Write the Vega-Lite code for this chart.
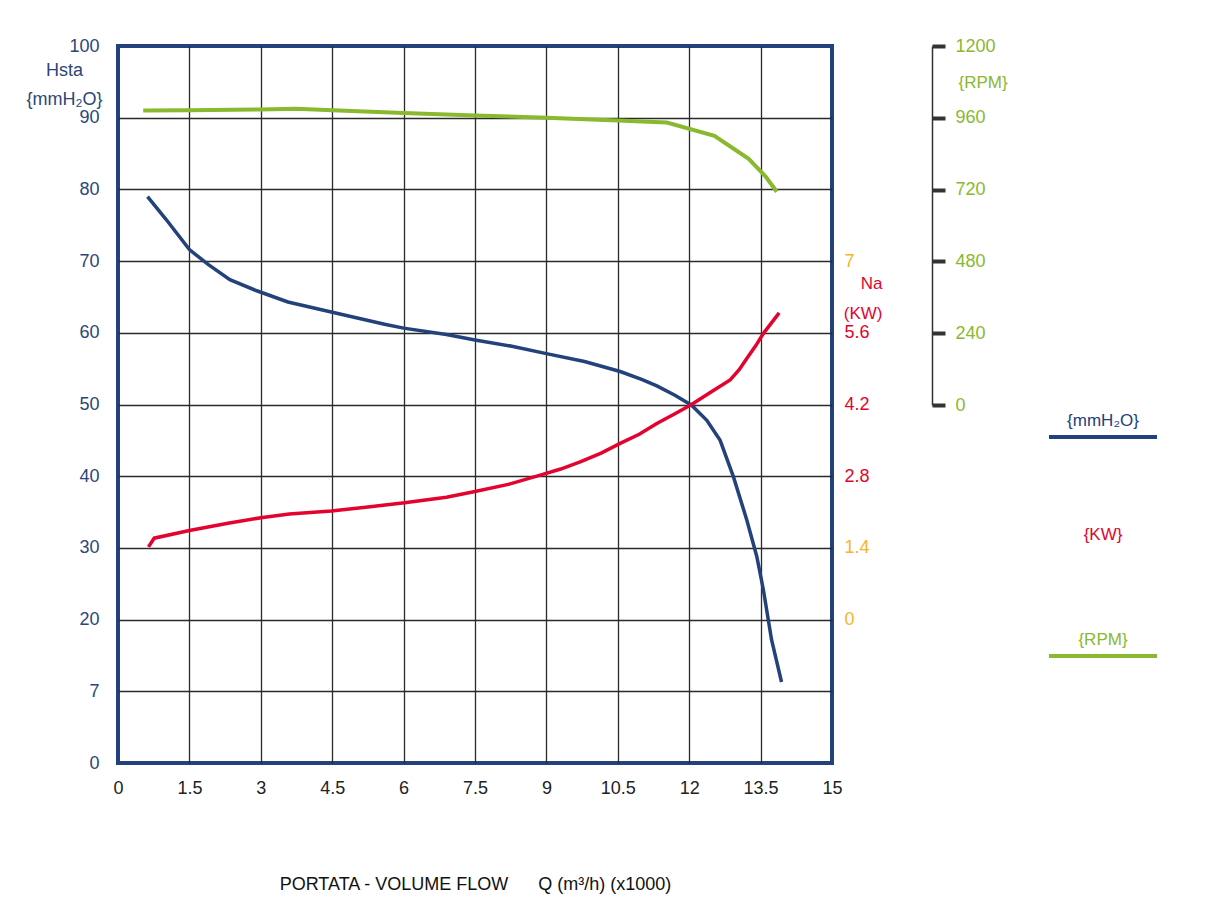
{
  "$schema": "https://vega.github.io/schema/vega-lite/v6.json",
  "width": 714,
  "height": 717,
  "autosize": "none",
  "padding": {"left": 118, "top": 46, "right": 387, "bottom": 146},
  "background": "white",
  "config": {
    "font": "Liberation Sans",
    "view": {"stroke": "#23417A", "strokeWidth": 4}
  },
  "datasets": {
    "head": [
      {"q": 0.62, "h": 79.0, "series": "{mmH₂O}"},
      {"q": 1.0, "h": 75.9, "series": "{mmH₂O}"},
      {"q": 1.5, "h": 71.6, "series": "{mmH₂O}"},
      {"q": 1.9, "h": 69.5, "series": "{mmH₂O}"},
      {"q": 2.35, "h": 67.4, "series": "{mmH₂O}"},
      {"q": 2.9, "h": 65.9, "series": "{mmH₂O}"},
      {"q": 3.57, "h": 64.3, "series": "{mmH₂O}"},
      {"q": 4.48, "h": 62.9, "series": "{mmH₂O}"},
      {"q": 5.6, "h": 61.2, "series": "{mmH₂O}"},
      {"q": 6.0, "h": 60.65, "series": "{mmH₂O}"},
      {"q": 6.9, "h": 59.75, "series": "{mmH₂O}"},
      {"q": 7.5, "h": 59.0, "series": "{mmH₂O}"},
      {"q": 8.25, "h": 58.15, "series": "{mmH₂O}"},
      {"q": 9.0, "h": 57.1, "series": "{mmH₂O}"},
      {"q": 9.8, "h": 56.0, "series": "{mmH₂O}"},
      {"q": 10.55, "h": 54.6, "series": "{mmH₂O}"},
      {"q": 11.0, "h": 53.5, "series": "{mmH₂O}"},
      {"q": 11.32, "h": 52.6, "series": "{mmH₂O}"},
      {"q": 11.7, "h": 51.3, "series": "{mmH₂O}"},
      {"q": 12.05, "h": 49.9, "series": "{mmH₂O}"},
      {"q": 12.37, "h": 47.8, "series": "{mmH₂O}"},
      {"q": 12.65, "h": 45.0, "series": "{mmH₂O}"},
      {"q": 12.93, "h": 39.9, "series": "{mmH₂O}"},
      {"q": 13.21, "h": 33.9, "series": "{mmH₂O}"},
      {"q": 13.42, "h": 28.8, "series": "{mmH₂O}"},
      {"q": 13.56, "h": 24.1, "series": "{mmH₂O}"},
      {"q": 13.73, "h": 17.2, "series": "{mmH₂O}"},
      {"q": 13.94, "h": 11.3, "series": "{mmH₂O}"}
    ],
    "power": [
      {"q": 0.64, "kw": 1.42, "series": "{KW}"},
      {"q": 0.76, "kw": 1.59, "series": "{KW}"},
      {"q": 1.5, "kw": 1.74, "series": "{KW}"},
      {"q": 2.31, "kw": 1.88, "series": "{KW}"},
      {"q": 3.0, "kw": 1.99, "series": "{KW}"},
      {"q": 3.6, "kw": 2.06, "series": "{KW}"},
      {"q": 4.48, "kw": 2.12, "series": "{KW}"},
      {"q": 5.25, "kw": 2.2, "series": "{KW}"},
      {"q": 6.02, "kw": 2.28, "series": "{KW}"},
      {"q": 6.9, "kw": 2.39, "series": "{KW}"},
      {"q": 7.5, "kw": 2.5, "series": "{KW}"},
      {"q": 8.2, "kw": 2.64, "series": "{KW}"},
      {"q": 8.87, "kw": 2.82, "series": "{KW}"},
      {"q": 9.3, "kw": 2.94, "series": "{KW}"},
      {"q": 9.71, "kw": 3.08, "series": "{KW}"},
      {"q": 10.15, "kw": 3.25, "series": "{KW}"},
      {"q": 10.55, "kw": 3.44, "series": "{KW}"},
      {"q": 10.95, "kw": 3.62, "series": "{KW}"},
      {"q": 11.32, "kw": 3.83, "series": "{KW}"},
      {"q": 11.7, "kw": 4.02, "series": "{KW}"},
      {"q": 12.05, "kw": 4.2, "series": "{KW}"},
      {"q": 12.45, "kw": 4.44, "series": "{KW}"},
      {"q": 12.86, "kw": 4.68, "series": "{KW}"},
      {"q": 13.05, "kw": 4.88, "series": "{KW}"},
      {"q": 13.21, "kw": 5.1, "series": "{KW}"},
      {"q": 13.4, "kw": 5.35, "series": "{KW}"},
      {"q": 13.56, "kw": 5.59, "series": "{KW}"},
      {"q": 13.89, "kw": 5.99, "series": "{KW}"}
    ],
    "speed": [
      {"q": 0.53, "rpm": 984, "series": "{RPM}"},
      {"q": 1.5, "rpm": 985, "series": "{RPM}"},
      {"q": 3.0, "rpm": 988, "series": "{RPM}"},
      {"q": 3.74, "rpm": 990, "series": "{RPM}"},
      {"q": 4.5, "rpm": 985, "series": "{RPM}"},
      {"q": 6.0, "rpm": 976, "series": "{RPM}"},
      {"q": 7.5, "rpm": 968, "series": "{RPM}"},
      {"q": 9.0, "rpm": 960, "series": "{RPM}"},
      {"q": 10.5, "rpm": 951, "series": "{RPM}"},
      {"q": 11.53, "rpm": 944, "series": "{RPM}"},
      {"q": 12.53, "rpm": 900, "series": "{RPM}"},
      {"q": 13.25, "rpm": 823, "series": "{RPM}"},
      {"q": 13.61, "rpm": 763, "series": "{RPM}"},
      {"q": 13.84, "rpm": 713, "series": "{RPM}"}
    ]
  },
  "layer": [
    {
      "data": {"name": "head"},
      "mark": {"type": "line", "strokeWidth": 3.5, "clip": false},
      "encoding": {
        "x": {
          "field": "q", "type": "quantitative",
          "scale": {"domain": [0, 15], "nice": false, "zero": false},
          "axis": {
            "values": [0, 1.5, 3, 4.5, 6, 7.5, 9, 10.5, 12, 13.5, 15],
            "labelExpr": "format(datum.value, '~g')",
            "labelFlush": false,
            "labelOverlap": false,
            "labelFontSize": 18,
            "labelColor": "#222222",
            "labelPadding": 16,
            "domain": false,
            "ticks": false,
            "grid": true,
            "gridColor": {"condition": {"test": "datum.value <= 0 || datum.value >= 15", "value": "transparent"}, "value": "#2a2a2a"},
            "gridWidth": 1.3,
            "title": "PORTATA - VOLUME FLOW\u00a0\u00a0\u00a0\u00a0\u00a0\u00a0Q (m³/h) (x1000)",
            "titleFontSize": 18,
            "titleFontWeight": "normal",
            "titleColor": "#111111",
            "titleY": 121,
            "titleBaseline": "middle"
          }
        },
        "y": {
          "field": "h", "type": "quantitative",
          "scale": {"domain": [0, 100], "nice": false},
          "axis": {
            "orient": "left",
            "values": [0, 10, 20, 30, 40, 50, 60, 70, 80, 90, 100],
            "labelExpr": "datum.value === 10 ? '7' : datum.label",
            "labelFlush": false,
            "labelOverlap": false,
            "labelFontSize": 18,
            "labelColor": "#2B4679",
            "labelPadding": 19,
            "domain": false,
            "ticks": false,
            "grid": true,
            "gridColor": {"condition": {"test": "datum.value <= 0 || datum.value >= 100", "value": "transparent"}, "value": "#2a2a2a"},
            "gridWidth": 1.3,
            "title": ["Hsta", "{mmH₂O}"],
            "titleAngle": 0,
            "titleAlign": "center",
            "titleX": -54,
            "titleY": 29,
            "titleBaseline": "alphabetic",
            "titleLineHeight": 29,
            "titleFontSize": 18,
            "titleFontWeight": "normal",
            "titleColor": "#2B4679"
          }
        },
        "color": {
          "field": "series", "type": "nominal",
          "scale": {"domain": ["{mmH₂O}", "{KW}", "{RPM}"], "range": ["#23417A", "#E4032E", "#8AB82E"]},
          "legend": {
            "orient": "none",
            "legendX": 929,
            "legendY": 335,
            "direction": "vertical",
            "title": null,
            "padding": 0,
            "rowPadding": 49.5,
            "symbolType": "stroke",
            "symbolSize": 11664,
            "symbolStrokeWidth": 4,
            "labelAlign": "center",
            "labelBaseline": "middle",
            "labelOffset": -56,
            "labelFontSize": 17,
            "encode": {
              "labels": {"update": {"dy": {"value": -16}, "fill": {"signal": "scale('color', datum.value)"}}},
              "symbols": {"update": {"opacity": {"signal": "datum.value === '{KW}' ? 0 : 1"}}}
            }
          }
        }
      }
    },
    {
      "data": {"name": "power"},
      "mark": {"type": "line", "strokeWidth": 3.5, "clip": false},
      "encoding": {
        "x": {"field": "q", "type": "quantitative", "scale": {"domain": [0, 15], "nice": false, "zero": false}},
        "y": {
          "field": "kw", "type": "quantitative",
          "scale": {"domain": [-2.8, 11.2], "nice": false, "zero": false},
          "axis": {
            "orient": "right",
            "values": [0, 1.4, 2.8, 4.2, 5.6, 7],
            "labelExpr": "format(datum.value, '~g')",
            "labelFlush": false,
            "labelOverlap": false,
            "labelFontSize": 18,
            "labelColor": {"condition": {"test": "datum.value < 2 || datum.value > 6", "value": "#F6B429"}, "value": "#E4032E"},
            "labelPadding": 12,
            "domain": false,
            "ticks": false,
            "grid": false,
            "title": ["Na", "(KW)"],
            "titleAngle": 0,
            "titleAlign": "right",
            "titleX": 50,
            "titleY": 242,
            "titleBaseline": "alphabetic",
            "titleLineHeight": 30,
            "titleFontSize": 17,
            "titleFontWeight": "normal",
            "titleColor": "#E4032E"
          }
        },
        "color": {"field": "series", "type": "nominal"}
      }
    },
    {
      "data": {"name": "speed"},
      "mark": {"type": "line", "strokeWidth": 4, "clip": false},
      "encoding": {
        "x": {"field": "q", "type": "quantitative", "scale": {"domain": [0, 15], "nice": false, "zero": false}},
        "y": {
          "field": "rpm", "type": "quantitative",
          "scale": {"domain": [0, 1200], "range": [359, 0], "nice": false, "zero": false},
          "axis": {
            "orient": "right",
            "offset": 100,
            "values": [0, 240, 480, 720, 960, 1200],
            "format": "d",
            "labelFlush": false,
            "labelOverlap": false,
            "labelFontSize": 18,
            "labelColor": "#8AB82E",
            "labelPadding": 10,
            "domain": true,
            "domainColor": "#333333",
            "domainWidth": 1.5,
            "ticks": true,
            "tickColor": "#333333",
            "tickWidth": 4,
            "tickSize": 13,
            "grid": false,
            "title": "{RPM}",
            "titleAngle": 0,
            "titleAlign": "left",
            "titleX": 26,
            "titleY": 36,
            "titleBaseline": "middle",
            "titleFontSize": 17,
            "titleFontWeight": "normal",
            "titleColor": "#8AB82E"
          }
        },
        "color": {"field": "series", "type": "nominal"}
      }
    }
  ],
  "resolve": {"scale": {"y": "independent"}, "axis": {"y": "independent"}}
}
